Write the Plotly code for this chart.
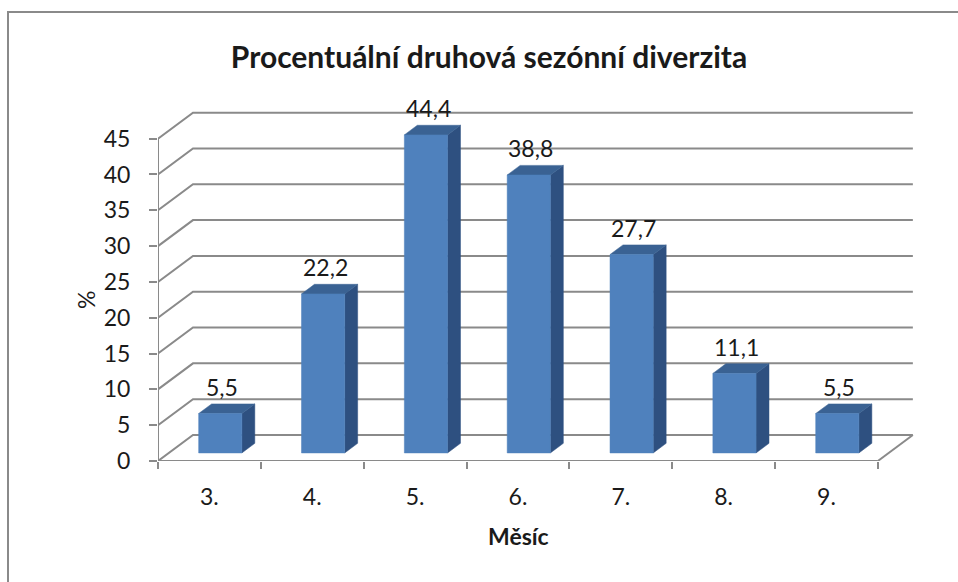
import plotly.graph_objects as go

# ---- data ----
categories = ["3.", "4.", "5.", "6.", "7.", "8.", "9."]
values = [5.5, 22.2, 44.4, 38.8, 27.7, 11.1, 5.5]
y_ticks = [0, 5, 10, 15, 20, 25, 30, 35, 40, 45]
title_text = "Procentuální druhová sezónní diverzita"
x_title = "Měsíc"
y_title = "%"

# ---- layout constants ----
W, H = 958, 582
ML, MR, MT, MB = 158, 39, 110, 121
X_MAX = 7.4
Y_MAX = 49.0
PW = W - ML - MR
PH = H - MT - MB
DX = 35 / (PW / X_MAX)      # depth offset in x units
DY = 26 / (PH / Y_MAX)      # depth offset in y units
F, B = 0.31, 0.68           # bar front/back depth fraction
BW = 0.42                   # bar width

GRID = "#8A8A8A"
FRONT = "#4F81BD"
TOP = "#3A6293"
SIDE = "#2E5080"
FONT = "Lato, Calibri, Carlito, sans-serif"
TXT = "#1a1a1a"

n = len(categories)
fig = go.Figure()

def line(xs, ys, xaxis="x"):
    fig.add_trace(go.Scatter(x=xs, y=ys, mode="lines", xaxis=xaxis,
                             line=dict(color=GRID, width=2),
                             hoverinfo="skip", showlegend=False))

# back wall gridlines + left side-wall diagonals
for v in y_ticks:
    line([0, DX, n + DX], [v, v + DY, v + DY])
# floor right diagonal
line([n, n + DX], [0, DY])
# front vertical axis line
line([0, 0], [0, max(y_ticks)])
# floor front edge (on x2 for tick marks)
line([0, n], [0, 0], xaxis="x2")

# bars
for i, v in enumerate(values):
    xl = i + 0.5 - BW / 2
    xr = i + 0.5 + BW / 2
    # side face
    fig.add_trace(go.Scatter(
        x=[xr + F * DX, xr + B * DX, xr + B * DX, xr + F * DX, xr + F * DX],
        y=[F * DY, B * DY, v + B * DY, v + F * DY, F * DY],
        mode="lines", fill="toself", fillcolor=SIDE,
        line=dict(color=SIDE, width=0.5), hoverinfo="skip", showlegend=False))
    # top face
    fig.add_trace(go.Scatter(
        x=[xl + F * DX, xr + F * DX, xr + B * DX, xl + B * DX, xl + F * DX],
        y=[v + F * DY, v + F * DY, v + B * DY, v + B * DY, v + F * DY],
        mode="lines", fill="toself", fillcolor=TOP,
        line=dict(color=TOP, width=0.5), hoverinfo="skip", showlegend=False))
    # front face
    fig.add_trace(go.Scatter(
        x=[xl + F * DX, xr + F * DX, xr + F * DX, xl + F * DX, xl + F * DX],
        y=[F * DY, F * DY, v + F * DY, v + F * DY, F * DY],
        mode="lines", fill="toself", fillcolor=FRONT,
        line=dict(color=FRONT, width=0.5), hoverinfo="skip", showlegend=False))

annotations = []
for i, v in enumerate(values):
    annotations.append(dict(
        x=i + 0.5 + F * DX + 0.02, y=v + B * DY, xref="x", yref="y",
        text=f"{v:.1f}".replace(".", ","), showarrow=False,
        xanchor="center", yanchor="middle", yshift=17,
        font=dict(family=FONT, size=23, color=TXT)))

# axis titles
annotations.append(dict(
    x=(86 - ML) / PW, y=(H - MB - 300) / PH, xref="paper", yref="paper",
    text=y_title, textangle=-90, showarrow=False,
    xanchor="center", yanchor="middle",
    font=dict(family=FONT, size=23, color=TXT)))
annotations.append(dict(
    x=(518 - ML) / PW, y=(H - MB - 536) / PH, xref="paper", yref="paper",
    text=f"<b>{x_title}</b>", showarrow=False,
    xanchor="center", yanchor="middle",
    font=dict(family=FONT, size=23, color=TXT)))

fig.update_layout(
    width=W, height=H,
    margin=dict(l=ML, r=MR, t=MT, b=MB, pad=0),
    paper_bgcolor="white", plot_bgcolor="white",
    title=dict(text=f"<b>{title_text}</b>", x=489 / W, xanchor="center",
               y=1 - 57 / H, yanchor="middle",
               font=dict(family=FONT, size=30, color=TXT)),
    xaxis=dict(range=[0, X_MAX], tickvals=[i + 0.5 for i in range(n)],
               ticktext=categories, ticks="", showgrid=False, zeroline=False,
               showline=False, ticklabelstandoff=20,
               tickfont=dict(family=FONT, size=23, color=TXT)),
    xaxis2=dict(range=[0, X_MAX], overlaying="x", anchor="y", side="bottom",
                tickvals=list(range(n + 1)), ticks="outside", ticklen=7,
                tickwidth=2, tickcolor=GRID, showticklabels=False,
                showgrid=False, zeroline=False, showline=False),
    yaxis=dict(range=[0, Y_MAX], tickvals=y_ticks, ticks="outside", ticklen=8,
               tickwidth=2, tickcolor=GRID, showgrid=False, zeroline=False,
               showline=False, ticklabelstandoff=14,
               tickfont=dict(family=FONT, size=23, color=TXT)),
    annotations=annotations,
    shapes=[dict(type="rect", xref="paper", yref="paper",
                 x0=(8 - ML) / PW, x1=(W + 20 - ML) / PW,
                 y0=(H - MB - (H + 20)) / PH, y1=(H - MB - 12) / PH,
                 line=dict(color=GRID, width=2), fillcolor="rgba(0,0,0,0)",
                 layer="below")],
)

fig.write_html("out.html")
